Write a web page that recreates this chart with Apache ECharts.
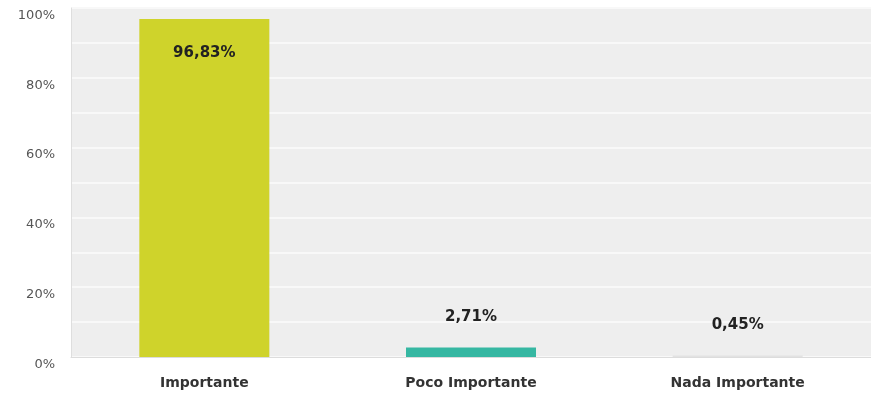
<!DOCTYPE html>
<html>
<head>
<meta charset="utf-8">
<script src="https://cdn.jsdelivr.net/npm/echarts@6/dist/echarts.min.js"></script>
<style>
  html, body { margin: 0; padding: 0; background: #fff; }
  #main { width: 871px; height: 398px; }
</style>
</head>
<body>
<div id="main"></div>
<script>
var categories = ['Importante', 'Poco Importante', 'Nada Importante'];
var values = [96.83, 2.71, 0.45];
var labels = ['96,83%', '2,71%', '0,45%'];
var barColors = ['#cfd32b', '#36b7a2', '#e2e2e2'];

function initChart() {
    var myChart = echarts.init(document.getElementById('main'));

    var seriesData = [];
    for (var i = 0; i < values.length; i++) {
        seriesData.push({
            value: values[i],
            itemStyle: { color: barColors[i] },
            label: i === 0
                ? { position: 'insideTop', distance: 27 }
                : { position: 'top', distance: 23 }
        });
    }

    var option = {
        animation: false,
        grid: {
            left: 71,
            right: 0,
            top: 8,
            bottom: 41,
            show: true,
            backgroundColor: '#eeeeee',
            borderWidth: 0
        },
        xAxis: {
            type: 'category',
            data: categories,
            axisLine: { show: true, lineStyle: { color: '#dcdcdc', width: 1 } },
            axisTick: { show: false },
            axisLabel: {
                margin: 19,
                color: '#333',
                fontFamily: 'DejaVu Sans',
                fontWeight: 'bold',
                fontSize: 14
            }
        },
        yAxis: {
            type: 'value',
            min: 0,
            max: 100,
            interval: 10,
            axisLine: { show: true, lineStyle: { color: '#dedede', width: 1 } },
            axisTick: { show: false },
            splitLine: { lineStyle: { color: '#f8f8f8', width: 2 } },
            axisLabel: {
                margin: 16,
                color: '#555',
                fontFamily: 'DejaVu Sans',
                fontSize: 13,
                verticalAlign: 'top',
                padding: [1, 0, 0, 0],
                formatter: function (v) {
                    return v % 20 === 0 ? v + '%' : '';
                }
            }
        },
        series: [{
            type: 'bar',
            barWidth: 130,
            data: seriesData,
            label: {
                show: true,
                color: '#222',
                fontFamily: 'DejaVu Sans',
                fontWeight: 'bold',
                fontSize: 15,
                formatter: function (p) {
                    return labels[p.dataIndex];
                }
            }
        }]
    };

    myChart.setOption(option);
}

initChart();
</script>
</body>
</html>
